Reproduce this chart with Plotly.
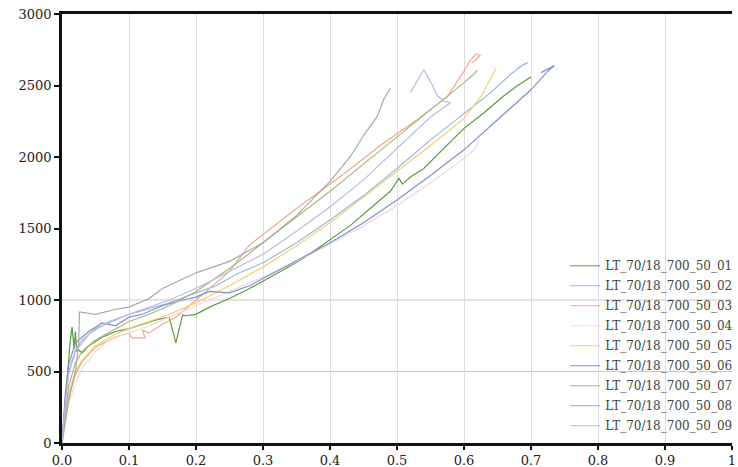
import plotly.graph_objects as go

names = ["LT_70/18_700_50_01", "LT_70/18_700_50_02", "LT_70/18_700_50_03",
         "LT_70/18_700_50_04", "LT_70/18_700_50_05", "LT_70/18_700_50_06",
         "LT_70/18_700_50_07", "LT_70/18_700_50_08", "LT_70/18_700_50_09"]
colors = ["#5b9b3b", "#9bb5e5", "#f0a890", "#f2d8d8", "#f2d070",
          "#8090cc", "#a8b878", "#a8a8a8", "#b8bce0"]

x01 = [0, 0.004, 0.008, 0.012, 0.015, 0.018, 0.02, 0.022, 0.025, 0.03, 0.04, 0.06, 0.08, 0.1,
       0.12, 0.14, 0.16, 0.17, 0.175, 0.18, 0.185, 0.2, 0.22, 0.25, 0.28, 0.3, 0.33, 0.36, 0.4,
       0.43, 0.46, 0.49, 0.503, 0.508, 0.52, 0.54, 0.57, 0.6, 0.63, 0.66, 0.68, 0.7]
y01 = [0, 250, 500, 700, 810, 660, 780, 640, 650, 630, 680, 740, 780, 800,
       830, 860, 880, 700, 800, 895, 890, 900, 950, 1010, 1080, 1130, 1210, 1290, 1420,
       1520, 1640, 1760, 1850, 1810, 1860, 1920, 2060, 2200, 2310, 2430, 2500, 2560]

x02 = [0, 0.005, 0.01, 0.02, 0.03, 0.05, 0.08, 0.1, 0.13, 0.16, 0.2, 0.23, 0.26, 0.3, 0.35,
       0.4, 0.45, 0.5, 0.55, 0.6, 0.64, 0.67, 0.69, 0.695, 0.68]
y02 = [0, 300, 500, 650, 720, 800, 860, 900, 940, 980, 1050, 1100, 1180, 1260, 1400,
       1560, 1730, 1920, 2120, 2300, 2450, 2580, 2650, 2660, 2620]

x03 = [0, 0.005, 0.01, 0.02, 0.03, 0.05, 0.08, 0.1, 0.104, 0.124, 0.12, 0.13, 0.15, 0.17,
       0.2, 0.25, 0.28, 0.35, 0.42, 0.475, 0.53, 0.575, 0.6, 0.61, 0.618, 0.624, 0.618, 0.612]
y03 = [0, 180, 320, 480, 570, 670, 740, 770, 735, 735, 790, 770, 830, 880,
       1000, 1200, 1385, 1640, 1880, 2080, 2260, 2420, 2600, 2680, 2720, 2710, 2680, 2660]

x04 = [0, 0.005, 0.01, 0.02, 0.03, 0.05, 0.07, 0.1, 0.13, 0.16, 0.2, 0.25, 0.3, 0.35, 0.4,
       0.45, 0.5, 0.55, 0.6, 0.615, 0.622, 0.615]
y04 = [0, 150, 280, 420, 520, 640, 720, 770, 820, 880, 960, 1060, 1160, 1270, 1390,
       1520, 1660, 1820, 1990, 2050, 2100, 2130]

x05 = [0, 0.005, 0.01, 0.02, 0.03, 0.05, 0.08, 0.1, 0.13, 0.16, 0.2, 0.25, 0.3, 0.35, 0.4,
       0.45, 0.5, 0.55, 0.6, 0.625, 0.648]
y05 = [0, 200, 350, 500, 580, 680, 760, 800, 850, 900, 980, 1100, 1230, 1380, 1540,
       1720, 1900, 2080, 2270, 2420, 2620]

x06 = [0, 0.005, 0.01, 0.02, 0.04, 0.06, 0.08, 0.1, 0.12, 0.15, 0.18, 0.2, 0.22, 0.25, 0.28,
       0.3, 0.35, 0.4, 0.45, 0.5, 0.55, 0.6, 0.65, 0.7, 0.725, 0.735, 0.715]
y06 = [0, 350, 550, 700, 780, 840, 820, 880, 900, 960, 1000, 1020, 1060, 1050, 1100,
       1150, 1280, 1400, 1540, 1700, 1870, 2050, 2260, 2470, 2600, 2640, 2590]

x07 = [0, 0.005, 0.01, 0.02, 0.03, 0.05, 0.08, 0.1, 0.13, 0.16, 0.2, 0.25, 0.3, 0.35, 0.4,
       0.45, 0.5, 0.55, 0.58, 0.6, 0.615, 0.62]
y07 = [0, 220, 400, 560, 640, 720, 800, 850, 900, 960, 1060, 1220, 1400, 1580, 1760,
       1950, 2140, 2330, 2440, 2520, 2580, 2610]

x08 = [0, 0.01, 0.02, 0.025, 0.026, 0.05, 0.082, 0.1, 0.13, 0.15, 0.2, 0.25, 0.3, 0.35, 0.4,
       0.43, 0.45, 0.47, 0.48, 0.49]
y08 = [0, 300, 500, 700, 917, 900, 937, 950, 1010, 1080, 1190, 1270, 1400, 1590, 1830,
       2000, 2150, 2280, 2400, 2480]

x09 = [0, 0.005, 0.01, 0.02, 0.04, 0.07, 0.1, 0.13, 0.16, 0.2, 0.25, 0.3, 0.35, 0.4, 0.45,
       0.5, 0.55, 0.58, 0.57, 0.56, 0.553, 0.54, 0.527, 0.52]
y09 = [0, 280, 480, 640, 760, 850, 900, 950, 1000, 1080, 1200, 1320, 1480, 1650, 1840,
       2060, 2280, 2380, 2390, 2430, 2500, 2610, 2500, 2450]

xs = [x01, x02, x03, x04, x05, x06, x07, x08, x09]
ys = [y01, y02, y03, y04, y05, y06, y07, y08, y09]

x_ticks = [0, 0.1, 0.2, 0.3, 0.4, 0.5, 0.6, 0.7, 0.8, 0.9, 1.0]
x_labels = ["0.0", "0.1", "0.2", "0.3", "0.4", "0.5", "0.6", "0.7", "0.8", "0.9", "1"]
y_ticks = [0, 500, 1000, 1500, 2000, 2500, 3000]
y_grid = [500, 1000]

fig = go.Figure()
for n, c, x, y in zip(names, colors, xs, ys):
    fig.add_trace(go.Scatter(x=x, y=y, mode="lines", name=n, legendgroup=n,
                             line=dict(color=c, width=1.2)))

for g in y_grid:
    fig.add_shape(type="line", xref="paper", yref="y", x0=0, x1=1, y0=g, y1=g,
                  line=dict(color="#c8c8c8", width=1), layer="below")

tf = dict(family="DejaVu Serif", size=13, color="#222222")
fig.update_layout(
    width=738, height=467,
    margin=dict(l=62, r=6, t=14, b=24, autoexpand=False),
    paper_bgcolor="white", plot_bgcolor="white",
    showlegend=True,
    legend=dict(x=0.751, y=0.447, xanchor="left", yanchor="top",
                bgcolor="rgba(0,0,0,0)", borderwidth=0,
                font=dict(family="DejaVu Serif", size=12, color="#444444"),
                itemwidth=30, traceorder="grouped", tracegroupgap=1),
    xaxis=dict(range=[0, 1], tickvals=x_ticks, ticktext=x_labels,
               showgrid=True, gridcolor="#dddddd", gridwidth=1,
               showline=True, linecolor="#111111", linewidth=2.5, mirror=True,
               ticks="outside", ticklen=4, tickcolor="#111111", tickwidth=1.5,
               tickfont=tf, zeroline=False),
    yaxis=dict(range=[0, 3000], tickvals=y_ticks,
               showgrid=False,
               showline=True, linecolor="#111111", linewidth=2.5,
               ticks="outside", ticklen=5, tickcolor="#111111", tickwidth=1.5,
               tickfont=tf, zeroline=False),
)

fig.write_html("out.html")
